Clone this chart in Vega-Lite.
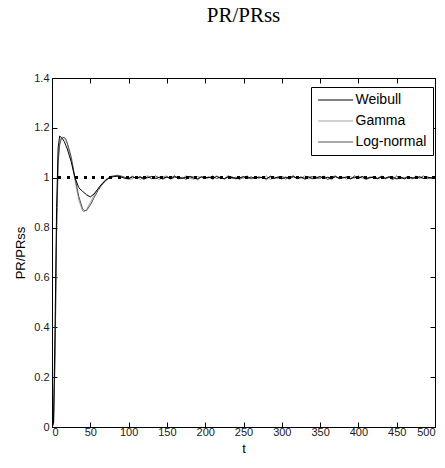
{
"$schema": "https://vega.github.io/schema/vega-lite/v6.json",
"width": 383, "height": 349,
"autosize": {"type": "none"},
"padding": {"left": 52, "top": 78, "right": 10, "bottom": 41},
"background": "white",
"title": {"text": "PR/PRss", "font": "Liberation Serif", "fontSize": 21, "fontWeight": "normal", "color": "black", "offset": 46, "anchor": "middle"},
"config": {
  "view": {"stroke": "black", "strokeWidth": 1},
  "axis": {"domainColor": "black", "tickColor": "black", "tickWidth": 1, "labelFont": "Liberation Sans", "labelFontSize": 11, "labelColor": "#1a1a1a", "titleFont": "Liberation Sans", "titleFontSize": 13, "titleFontWeight": "normal", "titleColor": "black", "grid": false, "tickSize": -5, "labelPadding": 8}
},
"data": {"values": [
{"t":0,"Weibull":0,"Gamma":0,"Log-normal":0},
{"t":2,"Weibull":0.02,"Gamma":0.01,"Log-normal":0.01},
{"t":4,"Weibull":0.40,"Gamma":0.30,"Log-normal":0.28},
{"t":6,"Weibull":0.88,"Gamma":0.80,"Log-normal":0.78},
{"t":8,"Weibull":1.12,"Gamma":1.08,"Log-normal":1.06},
{"t":10,"Weibull":1.167,"Gamma":1.14,"Log-normal":1.13},
{"t":12,"Weibull":1.162,"Gamma":1.16,"Log-normal":1.155},
{"t":14,"Weibull":1.155,"Gamma":1.163,"Log-normal":1.16},
{"t":16,"Weibull":1.145,"Gamma":1.16,"Log-normal":1.162},
{"t":18,"Weibull":1.13,"Gamma":1.15,"Log-normal":1.155},
{"t":20,"Weibull":1.115,"Gamma":1.135,"Log-normal":1.14},
{"t":25,"Weibull":1.065,"Gamma":1.075,"Log-normal":1.085},
{"t":30,"Weibull":1.0,"Gamma":0.99,"Log-normal":1.0},
{"t":35,"Weibull":0.96,"Gamma":0.91,"Log-normal":0.925},
{"t":40,"Weibull":0.945,"Gamma":0.866,"Log-normal":0.875},
{"t":42,"Weibull":0.94,"Gamma":0.864,"Log-normal":0.868},
{"t":45,"Weibull":0.932,"Gamma":0.872,"Log-normal":0.868},
{"t":50,"Weibull":0.923,"Gamma":0.9,"Log-normal":0.89},
{"t":55,"Weibull":0.935,"Gamma":0.93,"Log-normal":0.92},
{"t":60,"Weibull":0.955,"Gamma":0.955,"Log-normal":0.948},
{"t":65,"Weibull":0.975,"Gamma":0.975,"Log-normal":0.97},
{"t":70,"Weibull":0.99,"Gamma":0.992,"Log-normal":0.988},
{"t":75,"Weibull":1.0,"Gamma":1.003,"Log-normal":1.0},
{"t":80,"Weibull":1.004,"Gamma":1.009,"Log-normal":1.006},
{"t":85,"Weibull":1.006,"Gamma":1.008,"Log-normal":1.01},
{"t":90,"Weibull":1.003,"Gamma":1.004,"Log-normal":1.007},
{"t":95,"Weibull":0.998,"Gamma":0.997,"Log-normal":1.002},
{"t":100,"Weibull":0.996,"Gamma":0.994,"Log-normal":0.997},
{"t":105,"Weibull":1.003,"Gamma":0.995,"Log-normal":1.006},
{"t":110,"Weibull":0.998,"Gamma":1.006,"Log-normal":0.997},
{"t":115,"Weibull":1.004,"Gamma":0.993,"Log-normal":1.002},
{"t":120,"Weibull":0.997,"Gamma":1.003,"Log-normal":0.993},
{"t":125,"Weibull":1.000,"Gamma":1.008,"Log-normal":1.004},
{"t":130,"Weibull":1.005,"Gamma":0.997,"Log-normal":0.996},
{"t":135,"Weibull":0.996,"Gamma":1.001,"Log-normal":1.007},
{"t":140,"Weibull":1.002,"Gamma":0.992,"Log-normal":1.000},
{"t":145,"Weibull":0.998,"Gamma":1.004,"Log-normal":0.994},
{"t":150,"Weibull":1.003,"Gamma":1.007,"Log-normal":1.003},
{"t":155,"Weibull":0.995,"Gamma":0.995,"Log-normal":0.998},
{"t":160,"Weibull":1.004,"Gamma":1.000,"Log-normal":1.008},
{"t":165,"Weibull":1.000,"Gamma":1.003,"Log-normal":0.996},
{"t":170,"Weibull":0.997,"Gamma":0.996,"Log-normal":1.002},
{"t":175,"Weibull":1.002,"Gamma":1.008,"Log-normal":0.993},
{"t":180,"Weibull":1.004,"Gamma":0.998,"Log-normal":1.005},
{"t":185,"Weibull":0.998,"Gamma":0.993,"Log-normal":1.003},
{"t":190,"Weibull":0.996,"Gamma":1.005,"Log-normal":0.992},
{"t":195,"Weibull":1.003,"Gamma":1.001,"Log-normal":1.004},
{"t":200,"Weibull":1.000,"Gamma":0.997,"Log-normal":0.998},
{"t":205,"Weibull":1.002,"Gamma":1.004,"Log-normal":1.000},
{"t":210,"Weibull":0.997,"Gamma":0.992,"Log-normal":1.007},
{"t":215,"Weibull":1.005,"Gamma":1.007,"Log-normal":0.996},
{"t":220,"Weibull":0.998,"Gamma":1.000,"Log-normal":1.003},
{"t":225,"Weibull":0.996,"Gamma":0.996,"Log-normal":0.995},
{"t":230,"Weibull":1.003,"Gamma":1.003,"Log-normal":1.008},
{"t":235,"Weibull":1.001,"Gamma":1.005,"Log-normal":0.997},
{"t":240,"Weibull":0.997,"Gamma":0.994,"Log-normal":1.002},
{"t":245,"Weibull":1.000,"Gamma":1.001,"Log-normal":0.993},
{"t":250,"Weibull":1.004,"Gamma":0.997,"Log-normal":1.004},
{"t":255,"Weibull":0.998,"Gamma":1.008,"Log-normal":1.000},
{"t":260,"Weibull":1.003,"Gamma":0.995,"Log-normal":0.996},
{"t":265,"Weibull":0.996,"Gamma":1.000,"Log-normal":1.005},
{"t":270,"Weibull":1.002,"Gamma":1.004,"Log-normal":0.998},
{"t":275,"Weibull":1.000,"Gamma":0.998,"Log-normal":1.003},
{"t":280,"Weibull":0.997,"Gamma":1.007,"Log-normal":0.992},
{"t":285,"Weibull":1.004,"Gamma":0.992,"Log-normal":1.007},
{"t":290,"Weibull":0.998,"Gamma":1.003,"Log-normal":0.997},
{"t":295,"Weibull":1.003,"Gamma":0.996,"Log-normal":1.002},
{"t":300,"Weibull":0.995,"Gamma":1.005,"Log-normal":1.004},
{"t":305,"Weibull":1.002,"Gamma":1.001,"Log-normal":0.995},
{"t":310,"Weibull":1.000,"Gamma":0.993,"Log-normal":1.000},
{"t":315,"Weibull":1.004,"Gamma":1.004,"Log-normal":1.008},
{"t":320,"Weibull":0.997,"Gamma":1.000,"Log-normal":0.996},
{"t":325,"Weibull":1.002,"Gamma":0.997,"Log-normal":1.003},
{"t":330,"Weibull":0.998,"Gamma":1.008,"Log-normal":0.993},
{"t":335,"Weibull":1.003,"Gamma":0.995,"Log-normal":1.002},
{"t":340,"Weibull":0.996,"Gamma":1.001,"Log-normal":1.005},
{"t":345,"Weibull":1.000,"Gamma":1.003,"Log-normal":0.997},
{"t":350,"Weibull":1.005,"Gamma":0.996,"Log-normal":0.999},
{"t":355,"Weibull":0.997,"Gamma":1.007,"Log-normal":1.004},
{"t":360,"Weibull":1.002,"Gamma":0.998,"Log-normal":0.992},
{"t":365,"Weibull":0.998,"Gamma":0.992,"Log-normal":1.003},
{"t":370,"Weibull":1.004,"Gamma":1.005,"Log-normal":1.007},
{"t":375,"Weibull":0.997,"Gamma":1.000,"Log-normal":0.996},
{"t":380,"Weibull":1.000,"Gamma":1.003,"Log-normal":1.000},
{"t":385,"Weibull":1.003,"Gamma":0.993,"Log-normal":1.002},
{"t":390,"Weibull":0.996,"Gamma":1.004,"Log-normal":0.995},
{"t":395,"Weibull":1.002,"Gamma":0.997,"Log-normal":1.008},
{"t":400,"Weibull":0.998,"Gamma":1.008,"Log-normal":0.997},
{"t":405,"Weibull":1.005,"Gamma":0.998,"Log-normal":1.004},
{"t":410,"Weibull":0.997,"Gamma":0.995,"Log-normal":0.993},
{"t":415,"Weibull":1.000,"Gamma":1.004,"Log-normal":1.000},
{"t":420,"Weibull":1.002,"Gamma":1.001,"Log-normal":1.003},
{"t":425,"Weibull":0.996,"Gamma":0.996,"Log-normal":0.998},
{"t":430,"Weibull":1.003,"Gamma":1.007,"Log-normal":1.005},
{"t":435,"Weibull":0.998,"Gamma":0.997,"Log-normal":0.996},
{"t":440,"Weibull":1.004,"Gamma":1.000,"Log-normal":1.002},
{"t":445,"Weibull":1.000,"Gamma":1.005,"Log-normal":0.992},
{"t":450,"Weibull":0.997,"Gamma":0.992,"Log-normal":1.007},
{"t":455,"Weibull":1.002,"Gamma":1.003,"Log-normal":0.997},
{"t":460,"Weibull":0.995,"Gamma":0.998,"Log-normal":1.000},
{"t":465,"Weibull":1.003,"Gamma":1.004,"Log-normal":1.004},
{"t":470,"Weibull":1.000,"Gamma":0.995,"Log-normal":0.995},
{"t":475,"Weibull":0.998,"Gamma":1.007,"Log-normal":1.003},
{"t":480,"Weibull":1.004,"Gamma":1.000,"Log-normal":0.998},
{"t":485,"Weibull":0.997,"Gamma":0.997,"Log-normal":1.007},
{"t":490,"Weibull":1.002,"Gamma":1.003,"Log-normal":0.996},
{"t":495,"Weibull":1.000,"Gamma":0.996,"Log-normal":1.000},
{"t":500,"Weibull":0.998,"Gamma":1.001,"Log-normal":0.997}
]},
"transform": [{"fold": ["Gamma", "Log-normal", "Weibull"], "as": ["series", "value"]}],
"layer": [
  {
    "mark": {"type": "line", "strokeWidth": 1, "clip": true},
    "encoding": {
      "x": {"field": "t", "type": "quantitative", "scale": {"domain": [0, 500], "nice": false}, "axis": {"orient": "bottom", "title": "t", "values": [0,50,100,150,200,250,300,350,400,450,500], "titlePadding": 5, "labelPadding": 4}},
      "y": {"field": "value", "type": "quantitative", "scale": {"domain": [0, 1.4], "nice": false}, "axis": {"orient": "left", "title": "PR/PRss", "values": [0,0.2,0.4,0.6,0.8,1,1.2,1.4], "format": "~g", "titlePadding": 6}},
      "color": {"field": "series", "type": "nominal", "sort": null, "scale": {"domain": ["Weibull", "Gamma", "Log-normal"], "range": ["#000000", "#a0a0a0", "#555555"]},
        "legend": {"title": null, "orient": "none", "legendX": 259, "legendY": 9, "strokeColor": "black", "fillColor": "white", "padding": 6, "labelFont": "Liberation Sans", "labelFontSize": 14, "labelColor": "black", "symbolType": "M-1,0H5", "symbolSize": 136, "symbolStrokeWidth": 1, "labelOffset": 24.5, "rowPadding": 7, "cornerRadius": 0}}
    }
  },
  {
    "mark": {"type": "line", "strokeOpacity": 0},
    "encoding": {
      "x": {"field": "t", "type": "quantitative", "scale": {"domain": [0, 500], "nice": false}, "axis": {"orient": "top", "labels": false, "title": null, "values": [0,50,100,150,200,250,300,350,400,450,500]}},
      "y": {"field": "value", "type": "quantitative", "scale": {"domain": [0, 1.4], "nice": false}, "axis": {"orient": "right", "labels": false, "title": null, "values": [0,0.2,0.4,0.6,0.8,1,1.2,1.4]}},
      "detail": {"field": "series"}
    }
  },
  {
    "mark": {"type": "rule", "strokeDash": [2.5, 6], "strokeWidth": 2.5, "color": "black"},
    "encoding": {"y": {"datum": 1, "axis": null}}
  }
],
"resolve": {"axis": {"x": "independent", "y": "independent"}}
}
